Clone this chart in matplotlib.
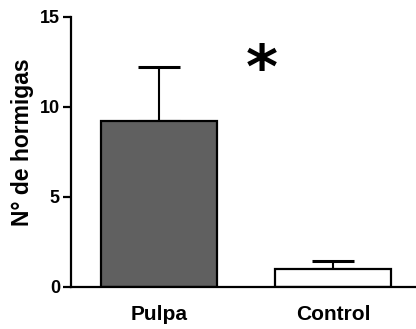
import matplotlib
matplotlib.use("Agg")
import matplotlib.pyplot as plt

categories = ["Pulpa", "Control"]
means = [9.2, 1.0]
errors = [3.0, 0.45]
colors = ["#606060", "#ffffff"]

plt.rcParams['font.family'] = ['Liberation Sans', 'DejaVu Sans']
plt.rcParams['font.weight'] = 'bold'

fig = plt.figure(figsize=(4.16, 3.29), dpi=100)
ax = fig.add_axes([0.1707, 0.1277, 0.8293, 0.8207])

x = [0, 1]
ax.bar(x, means, width=0.665, color=colors, edgecolor="black", linewidth=1.6, zorder=2)
# only the upper half of the error bars, like in prism
ax.errorbar(x, means, yerr=[[0, 0], errors], fmt="none", ecolor="black",
            elinewidth=1.5, capsize=15, capthick=2.2, zorder=1)

ax.set_xlim(-0.504, 1.473)
ax.set_ylim(0, 15)
ax.set_yticks([0, 5, 10, 15])
ax.set_xticks(x)
ax.set_xticklabels(categories, fontsize=15, fontweight="bold")
ax.tick_params(axis="x", length=0, pad=13)
ax.tick_params(axis="y", direction="out", length=6, width=1.6, labelsize=13, pad=2)
for lab in ax.get_yticklabels():
    lab.set_fontweight("bold")
ax.set_ylabel("N° de hormigas", fontsize=16.5, fontweight="bold")
ax.yaxis.set_label_coords(-0.108, 0.537)

for s in ["top", "right"]:
    ax.spines[s].set_visible(False)
ax.spines["left"].set_linewidth(1.6)
ax.spines["bottom"].set_linewidth(1.6)

ax.text(0.59, 11.95, "*", fontsize=44, fontweight="bold", ha="center", va="center",
        family="DejaVu Sans")

fig.savefig("out.png", dpi=100)
